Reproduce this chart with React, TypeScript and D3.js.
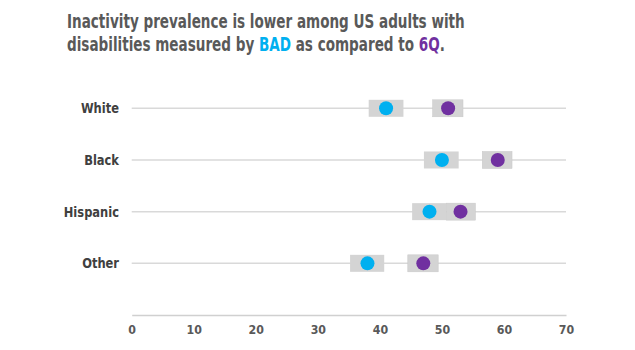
import { useEffect, useRef } from 'react'
import * as d3 from 'd3'

const groups = ['White', 'Black', 'Hispanic', 'Other']
const badValues = [41, 50, 48, 38]
const badLow = [38.2, 47.1, 45.2, 35.2]
const badHigh = [43.8, 52.7, 50.7, 40.7]
const sixQValues = [51, 59, 53, 47]
const sixQLow = [48.5, 56.5, 50.7, 44.5]
const sixQHigh = [53.4, 61.3, 55.4, 49.4]
const xTicks = [0, 10, 20, 30, 40, 50, 60, 70]

const BAD_COLOR = '#00b0f0'
const SIXQ_COLOR = '#7030a0'
const FONT = '"DejaVu Sans", sans-serif'

export default function App() {
  const svgRef = useRef<SVGSVGElement | null>(null)

  useEffect(() => {
    const W = 635
    const H = 350
    const svg = d3.select(svgRef.current)
    svg.selectAll('*').remove()
    svg.attr('width', W).attr('height', H)

    const x = d3.scaleLinear().domain([0, 70]).range([131.7, 566])
    // the axis sits where a fifth row would be
    const y = d3.scalePoint<string>().domain([...groups, '_axis']).range([108.3, 315])

    const title = svg.append('text')
      .attr('font-family', FONT).attr('font-weight', 'bold')
      .attr('font-size', 19.5).attr('fill', '#595959')
    title.append('tspan').attr('x', 67).attr('y', 28).text('Inactivity prevalence is lower among US adults with')
    const l2 = title.append('tspan').attr('x', 67).attr('y', 51)
    l2.append('tspan').text('disabilities measured by ')
    l2.append('tspan').attr('fill', BAD_COLOR).text('BAD')
    l2.append('tspan').text(' as compared to ')
    l2.append('tspan').attr('fill', SIXQ_COLOR).text('6Q')
    l2.append('tspan').text('.')

    const rows = groups.map((g, i) => ({
      g, bad: badValues[i], bl: badLow[i], bh: badHigh[i],
      q: sixQValues[i], ql: sixQLow[i], qh: sixQHigh[i],
    }))

    svg.selectAll('.row-line').data(rows).join('line')
      .attr('x1', x(0)).attr('x2', x(70))
      .attr('y1', (d) => y(d.g)!).attr('y2', (d) => y(d.g)!)
      .attr('stroke', '#d9d9d9').attr('stroke-width', 1.5)

    // condensed look: squeeze horizontally
    svg.selectAll('.row-label').data(rows).join('text')
      .attr('transform', (d) => `translate(119,${y(d.g)! + 5}) scale(0.82,1)`)
      .attr('text-anchor', 'end').attr('font-family', FONT).attr('font-weight', 'bold')
      .attr('font-size', 14).attr('fill', '#404040')
      .text((d) => d.g)

    const boxH = 17
    svg.selectAll('.bad-box').data(rows).join('rect')
      .attr('x', (d) => x(d.bl)).attr('width', (d) => x(d.bh) - x(d.bl))
      .attr('y', (d) => y(d.g)! - boxH / 2).attr('height', boxH)
      .attr('fill', '#d4d4d4')
    svg.selectAll('.q-box').data(rows).join('rect')
      .attr('x', (d) => x(d.ql)).attr('width', (d) => x(d.qh) - x(d.ql))
      .attr('y', (d) => y(d.g)! - boxH / 2).attr('height', boxH)
      .attr('fill', '#d4d4d4').attr('stroke', '#c8c8c8').attr('stroke-width', 0.5)

    svg.selectAll('.bad-dot').data(rows).join('circle')
      .attr('cx', (d) => x(d.bad)).attr('cy', (d) => y(d.g)!).attr('r', 7)
      .attr('fill', BAD_COLOR)
    svg.selectAll('.q-dot').data(rows).join('circle')
      .attr('cx', (d) => x(d.q)).attr('cy', (d) => y(d.g)!).attr('r', 7)
      .attr('fill', SIXQ_COLOR)

    const axis = svg.append('g')
      .attr('transform', `translate(0,${y('_axis')})`)
      .call(d3.axisBottom(x).tickValues(xTicks).tickSize(0).tickPadding(10).tickFormat((d) => `${d}`))
    axis.select('.domain').attr('stroke', '#d0d0d0').attr('stroke-width', 1.5)
    axis.selectAll('.tick text').attr('font-family', FONT).attr('font-weight', 'bold')
      .attr('font-size', 13).attr('fill', '#595959')
      .attr('transform', 'scale(0.85,1)')

    // squeeze the title to the reference's condensed width
    const node = title.node() as SVGTextElement
    const w = node.getBBox().width
    const target = 398
    if (w > 0) {
      const s = target / w
      title.attr('transform', `translate(67,0) scale(${s},1) translate(-67,0)`)
    }
  }, [])

  return (
    <div style={{ position: 'absolute', left: 0, top: 0 }}>
      <svg ref={svgRef} style={{ display: 'block' }} />
    </div>
  )
}
